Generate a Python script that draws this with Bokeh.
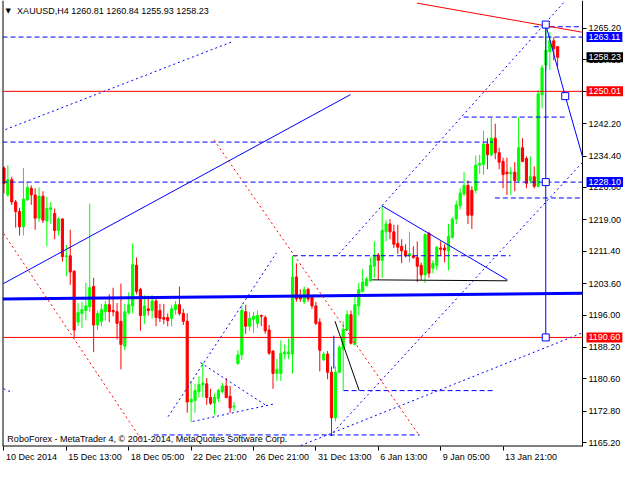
from bokeh.plotting import figure
from bokeh.models import (ColumnDataSource, Label, FixedTicker,
                          CustomJSTickFormatter, Range1d, NumeralTickFormatter)
from bokeh.embed import file_html
from bokeh.resources import INLINE

# ---------------- data ----------------
symbol = "XAUUSD,H4"

opens = [1231.5, 1225.0, 1228.7, 1223.3, 1221.0, 1217.3, 1223.8, 1226.6, 1225.0, 1219.4,
         1224.7, 1218.7, 1221.5, 1220.5, 1216.4, 1219.2, 1210.1, 1210.3, 1206.6, 1194.3,
         1196.4, 1197.1, 1198.0, 1202.9, 1193.6, 1194.5, 1196.8, 1198.5, 1197.1, 1196.8,
         1194.5, 1188.5, 1196.6, 1198.2, 1208.0, 1202.2, 1195.9, 1197.5, 1197.1, 1199.4,
         1197.1, 1195.4, 1195.4, 1195.2, 1197.3, 1198.5, 1196.4, 1194.5, 1175.0, 1175.4,
         1177.5, 1179.2, 1179.4, 1176.1, 1174.7, 1175.9, 1177.5, 1178.9, 1176.4, 1173.8,
         1184.3, 1186.4, 1196.8, 1193.3, 1195.0, 1194.0, 1195.9, 1195.4, 1192.4, 1187.3,
         1181.9, 1181.9, 1186.6, 1186.6, 1186.6, 1205.2, 1200.8, 1199.2, 1202.2, 1200.3,
         1198.2, 1194.3, 1185.2, 1186.6, 1182.2, 1171.2, 1182.2, 1187.8, 1192.4, 1196.1,
         1188.9, 1198.2, 1201.7, 1203.1, 1204.3, 1207.8, 1210.5, 1209.2, 1216.1, 1218.0,
         1216.1, 1213.3, 1212.6, 1211.5, 1210.3, 1210.3, 1209.9, 1208.0, 1205.7, 1215.7,
         1207.3, 1208.0, 1212.2, 1212.2, 1211.5, 1214.7, 1219.2, 1222.4, 1225.2, 1227.3,
         1226.1, 1226.1, 1232.2, 1232.4, 1237.3, 1234.7, 1238.7, 1235.2, 1233.1, 1230.5,
         1230.1, 1230.5, 1228.5, 1236.4, 1233.8, 1228.5, 1229.4, 1227.1, 1249.2, 1256.4,
         1259.6, 1262.2, 1260.81]
highs = [1231.9, 1232.2, 1229.4, 1223.8, 1221.9, 1231.5, 1228.0, 1227.3, 1226.6, 1226.8,
         1225.9, 1224.5, 1223.3, 1221.7, 1219.6, 1219.4, 1212.9, 1216.6, 1206.8, 1198.9,
         1199.2, 1203.8, 1222.9, 1205.0, 1197.1, 1198.7, 1199.4, 1201.0, 1202.6, 1198.9,
         1203.6, 1198.7, 1201.5, 1213.3, 1209.9, 1202.6, 1200.8, 1200.3, 1200.8, 1199.9,
         1198.7, 1198.7, 1196.4, 1198.5, 1199.4, 1202.9, 1197.5, 1196.4, 1180.1, 1179.4,
         1181.2, 1184.5, 1180.8, 1178.2, 1177.1, 1178.2, 1179.6, 1180.8, 1178.9, 1175.0,
         1187.5, 1198.5, 1198.5, 1196.8, 1196.8, 1197.1, 1196.1, 1195.9, 1193.6, 1187.5,
         1185.4, 1189.9, 1188.9, 1190.3, 1210.3, 1208.5, 1202.2, 1202.9, 1202.6, 1200.8,
         1199.2, 1195.2, 1187.1, 1187.3, 1183.6, 1183.6, 1188.7, 1194.5, 1197.1, 1197.1,
         1200.5, 1203.8, 1207.1, 1205.2, 1209.9, 1213.8, 1211.0, 1222.4, 1218.9, 1219.2,
         1217.8, 1217.8, 1214.3, 1213.1, 1216.1, 1212.6, 1213.8, 1208.7, 1215.7, 1216.1,
         1209.2, 1212.6, 1213.8, 1213.1, 1218.0, 1219.6, 1223.6, 1226.6, 1230.5, 1228.5,
         1227.1, 1234.5, 1234.7, 1240.5, 1238.7, 1243.6, 1242.2, 1236.4, 1234.0, 1234.0,
         1231.7, 1232.9, 1243.8, 1238.7, 1234.3, 1234.3, 1231.9, 1250.3, 1256.4, 1265.9,
         1264.3, 1263.1, 1260.84]
lows = [1225.4, 1224.5, 1222.6, 1217.1, 1215.2, 1215.2, 1223.6, 1222.6, 1216.6, 1218.5,
        1218.2, 1212.6, 1218.0, 1214.3, 1215.2, 1208.9, 1205.4, 1203.3, 1190.5, 1193.3,
        1192.9, 1194.7, 1196.8, 1187.1, 1192.4, 1193.3, 1194.7, 1194.3, 1195.7, 1190.1,
        1182.9, 1187.5, 1196.1, 1196.4, 1201.0, 1192.2, 1193.8, 1195.9, 1195.2, 1193.3,
        1194.3, 1193.8, 1193.3, 1193.3, 1196.1, 1195.9, 1193.6, 1172.4, 1170.1, 1172.4,
        1176.1, 1176.1, 1174.3, 1174.3, 1171.9, 1175.0, 1177.1, 1175.9, 1172.4, 1172.9,
        1184.0, 1185.2, 1191.5, 1192.2, 1191.7, 1192.9, 1193.3, 1191.5, 1186.4, 1178.2,
        1180.1, 1180.1, 1185.4, 1185.4, 1181.9, 1199.2, 1199.2, 1198.7, 1199.2, 1197.5,
        1193.6, 1182.4, 1184.9, 1180.5, 1166.8, 1170.3, 1181.9, 1177.8, 1192.2, 1188.9,
        1188.7, 1195.9, 1201.5, 1202.9, 1204.0, 1205.0, 1204.5, 1205.0, 1213.8, 1214.3,
        1212.2, 1210.8, 1208.5, 1209.9, 1208.7, 1209.6, 1204.0, 1204.5, 1203.8, 1205.0,
        1206.1, 1206.8, 1210.3, 1208.7, 1206.8, 1214.5, 1218.0, 1221.5, 1224.7, 1218.0,
        1216.8, 1225.4, 1230.1, 1229.9, 1231.2, 1234.3, 1233.6, 1231.2, 1226.6, 1225.0,
        1225.0, 1225.9, 1228.0, 1232.9, 1226.6, 1227.8, 1226.6, 1226.8, 1245.9, 1255.0,
        1255.2, 1257.5, 1255.93]
closes = [1227.8, 1228.7, 1223.3, 1221.0, 1217.3, 1224.0, 1226.8, 1225.0, 1219.4, 1224.7,
          1218.9, 1221.7, 1221.9, 1216.4, 1219.2, 1210.1, 1210.3, 1206.4, 1192.4, 1196.6,
          1197.3, 1198.2, 1202.6, 1193.6, 1196.4, 1197.3, 1198.5, 1196.8, 1196.8, 1194.0,
          1188.9, 1196.8, 1198.5, 1208.2, 1201.7, 1195.9, 1198.2, 1197.1, 1199.4, 1195.4,
          1195.2, 1195.0, 1194.7, 1197.5, 1198.5, 1196.4, 1194.5, 1175.0, 1175.7, 1177.8,
          1179.2, 1179.6, 1176.1, 1174.7, 1176.1, 1177.8, 1178.9, 1176.1, 1173.6, 1174.0,
          1186.4, 1197.1, 1193.3, 1195.2, 1195.7, 1195.9, 1195.7, 1192.2, 1186.8, 1181.9,
          1182.9, 1186.8, 1187.1, 1187.1, 1205.2, 1199.9, 1199.9, 1202.2, 1199.9, 1198.2,
          1194.0, 1187.5, 1186.6, 1182.2, 1171.2, 1182.2, 1188.2, 1192.6, 1196.1, 1189.2,
          1198.5, 1202.2, 1204.0, 1204.7, 1208.0, 1210.5, 1209.2, 1216.4, 1218.0, 1216.1,
          1213.1, 1212.4, 1211.5, 1210.3, 1210.8, 1209.9, 1207.8, 1205.7, 1215.4, 1206.1,
          1208.5, 1212.4, 1211.9, 1211.7, 1215.0, 1219.2, 1222.6, 1225.4, 1227.3, 1220.1,
          1220.1, 1232.2, 1232.6, 1237.3, 1234.7, 1238.7, 1235.2, 1232.9, 1229.9, 1230.1,
          1230.5, 1228.5, 1236.4, 1233.1, 1227.8, 1229.4, 1227.1, 1249.4, 1255.7, 1259.9,
          1262.2, 1260.3, 1258.23]

date_tick_bars = [0, 16, 32, 48, 64, 80, 96, 112, 128]
date_labels = ["10 Dec 2014", "15 Dec 13:00", "18 Dec 05:00", "22 Dec 21:00",
               "26 Dec 21:00", "31 Dec 13:00", "6 Jan 13:00", "9 Jan 05:00", "13 Jan 21:00"]
price_ticks = [1165.2, 1172.8, 1180.6, 1188.2, 1196.0, 1203.6, 1211.4,
               1219.0, 1226.8, 1234.4, 1242.2, 1250.0, 1257.6, 1265.2]

# full-width level lines
level_prices = [1263.11, 1250.01, 1228.10, 1190.60]
level_colors = ["#0000FF", "#FF0000", "#0000FF", "#FF0000"]
level_dashes = ["5 3", "solid", "5 3", "solid"]

# price tags on the axis
tag_prices = [1263.11, 1258.23, 1250.01, 1228.10, 1190.60]
tag_colors = ["#0000FF", "#000000", "#FF0000", "#0000FF", "#FF0000"]

# short dashed horizontal levels: start bar, end bar, price
hseg_x0 = [-0.375, 117.9, 125.9, 74.1, 87.1, 38.4, 135.9]
hseg_x1 = [125.4, 144.6, 148.375, 129.9, 125.4, 106.6, 148.375]
hseg_y = [1237.76, 1243.80, 1224.27, 1210.32, 1177.76, 1167.06, 1265.6]

# blue thin solid trend lines
bsol_x0 = [-0.2, 96.9, 84.6, 138.95, 138.95, 143.95]
bsol_y0 = [1203.57, 1222.41, 1191.01, 1266.13, 1266.13, 1248.85]
bsol_x1 = [88.9, 129.1, 84.6, 138.95, 143.95, 148.375]
bsol_y1 = [1249.23, 1204.50, 1183.10, 1190.54, 1248.85, 1234.27]

# thick blue line
thick_x = [-0.375, 148.375]
thick_y = [1199.85, 1201.24]

# blue dotted lines
bdot_x0 = [0.375, 42.1, 50.4, 48.4, 85.9, 83.6, 76.1, -0.1]
bdot_y0 = [1240.78, 1171.48, 1184.50, 1170.31, 1210.78, 1166.83, 1164.50, 1178.22]
bdot_x1 = [58.4, 69.9, 67.1, 69.1, 143.6, 148.375, 148.375, 2.1]
bdot_y1 = [1261.94, 1211.01, 1174.27, 1174.50, 1271.48, 1232.87, 1191.71, 1177.29]

# red dotted lines
rdot_x0 = [-0.05, 53.9]
rdot_y0 = [1215.66, 1238.22]
rdot_x1 = [35.6, 106.6]
rdot_y1 = [1165.43, 1166.83]

# red solid line
rsol_x0 = [105.9]
rsol_y0 = [1271.31]
rsol_x1 = [148.375]
rsol_y1 = [1264.27]

# black lines
blk_x0 = [84.9, 94.4]
blk_y0 = [1194.50, 1204.50]
blk_x1 = [91.1, 129.1]
blk_y1 = [1177.76, 1204.27]

# projection squares
sq_x = [138.95, 138.95, 138.95, 143.95]
sq_y = [1266.13, 1228.10, 1190.60, 1248.85]

copyright_text = "RoboForex - MetaTrader 4, \u00a9 2001-2014, MetaQuotes Software Corp."

# ---------------- figure ----------------
FONT = "Liberation Sans"
FS = "9px"
W, H = 624, 464
BL, BT, BB = 2, 0, 16
AXIS_W = 42                         # width of the price scale strip
x_start, x_data_end = -0.375, 148.375
y_start, y_end = 1164.27, 1271.94
ppb = (W - BL - AXIS_W) / (x_data_end - x_start)
x_end = x_data_end + AXIS_W / ppb   # frame also covers the price scale strip

p = figure(width=W, height=H, x_range=Range1d(x_start, x_end),
           y_range=Range1d(y_start, y_end), output_backend="svg",
           toolbar_location=None, y_axis_location="right",
           min_border_left=BL, min_border_right=0, min_border_top=BT,
           min_border_bottom=BB, background_fill_color="white",
           border_fill_color="white")
p.grid.visible = False
p.outline_line_color = None

# candles
idx = list(range(len(opens)))
col = ["#00FF00" if c >= o else "#FF0000" for o, c in zip(opens, closes)]
src = ColumnDataSource(dict(x=idx, h=highs, l=lows,
                            top=[max(o, c) for o, c in zip(opens, closes)],
                            bot=[min(o, c) for o, c in zip(opens, closes)],
                            color=col))
p.segment(x0="x", y0="l", x1="x", y1="h", line_color="color", line_width=1, source=src)
p.vbar(x="x", width=0.55, top="top", bottom="bot", fill_color="color",
       line_color="color", line_width=1, source=src)

# chart border lines (left edge, bottom edge, price scale edge)
p.segment(x0=[x_start], y0=[y_start], x1=[x_start], y1=[y_end], line_color="black", line_width=2)
p.segment(x0=[x_start], y0=[y_start], x1=[x_data_end], y1=[y_start], line_color="black", line_width=2)
p.segment(x0=[x_data_end], y0=[y_start], x1=[x_data_end], y1=[y_end], line_color="black", line_width=1)

# objects
for pr, c, d in zip(level_prices, level_colors, level_dashes):
    p.segment(x0=[x_start], y0=[pr], x1=[x_data_end], y1=[pr], line_color=c,
              line_dash=d, line_width=1)

p.segment(x0=hseg_x0, y0=hseg_y, x1=hseg_x1, y1=hseg_y, line_color="#0000FF",
          line_dash="5 3", line_width=1)
p.line(thick_x, thick_y, line_color="#0000FF", line_width=3)
p.segment(x0=bsol_x0, y0=bsol_y0, x1=bsol_x1, y1=bsol_y1, line_color="#0000FF", line_width=1)
p.segment(x0=bdot_x0, y0=bdot_y0, x1=bdot_x1, y1=bdot_y1, line_color="#0000FF",
          line_dash="2 3", line_width=1)
p.segment(x0=rdot_x0, y0=rdot_y0, x1=rdot_x1, y1=rdot_y1, line_color="#FF0000",
          line_dash="2 3", line_width=1)
p.segment(x0=rsol_x0, y0=rsol_y0, x1=rsol_x1, y1=rsol_y1, line_color="#FF0000", line_width=1)
p.segment(x0=blk_x0, y0=blk_y0, x1=blk_x1, y1=blk_y1, line_color="black", line_width=1)
p.scatter(sq_x, sq_y, marker="square", size=7, fill_color="white",
          line_color="#0000FF", line_width=1)

# price axis: sits on the far right edge, ticks and labels drawn back into the strip
p.yaxis.ticker = FixedTicker(ticks=price_ticks)
p.yaxis.formatter = NumeralTickFormatter(format="0.00")
p.yaxis.major_tick_in = AXIS_W
p.yaxis.major_tick_out = -(AXIS_W - 4)
p.yaxis.minor_tick_in = 0
p.yaxis.minor_tick_out = 0
p.yaxis.minor_tick_line_color = None
p.yaxis.major_label_standoff = -(AXIS_W - 6)
p.yaxis.major_label_text_font = FONT
p.yaxis.major_label_text_font_size = FS
p.yaxis.major_label_text_color = "black"
p.yaxis.axis_line_color = None

label_px = [51.0, 53.5, 53.5, 53.5, 53.5, 53.5, 47.0, 47.0, 52.0]
centers = [b + (2 + w / 2) / ppb for b, w in zip(date_tick_bars, label_px)]
p.xaxis.ticker = FixedTicker(ticks=centers, minor_ticks=date_tick_bars)
p.xaxis.formatter = CustomJSTickFormatter(args=dict(labels=date_labels),
                                          code="return labels[index]")
p.xaxis.major_tick_line_color = None
p.xaxis.major_tick_out = 3
p.xaxis.major_tick_in = 0
p.xaxis.minor_tick_out = 4
p.xaxis.minor_tick_in = 0
p.xaxis.minor_tick_line_color = "black"
p.xaxis.major_label_standoff = 1
p.xaxis.major_label_text_font = FONT
p.xaxis.major_label_text_font_size = FS
p.xaxis.major_label_text_color = "black"
p.xaxis.axis_line_color = None

# price tags
for pr, c in zip(tag_prices, tag_colors):
    p.add_layout(Label(x=x_data_end, y=pr, x_offset=4, text=f"{pr:.2f}", text_font=FONT,
                       text_font_size=FS, text_color="white", text_align="left",
                       text_baseline="middle", background_fill_color=c, padding=2))

# header and copyright
header = f"{symbol}  " + " ".join(f"{v:.2f}" for v in (opens[-1], highs[-1], lows[-1], closes[-1]))
p.add_layout(Label(x=1.1, y=1269.5, text="\u25bc", text_font="DejaVu Sans",
                   text_font_size="7px", text_color="black", text_align="center",
                   text_baseline="middle"))
p.add_layout(Label(x=3.375, y=1269.5, text=header, text_font=FONT, text_font_size=FS,
                   text_color="black", text_align="left", text_baseline="middle"))
p.add_layout(Label(x=0.875, y=1166.1, text=copyright_text, text_font=FONT,
                   text_font_size=FS, text_color="black", text_align="left",
                   text_baseline="middle"))

open("out.html", "w").write(file_html(p, INLINE))
